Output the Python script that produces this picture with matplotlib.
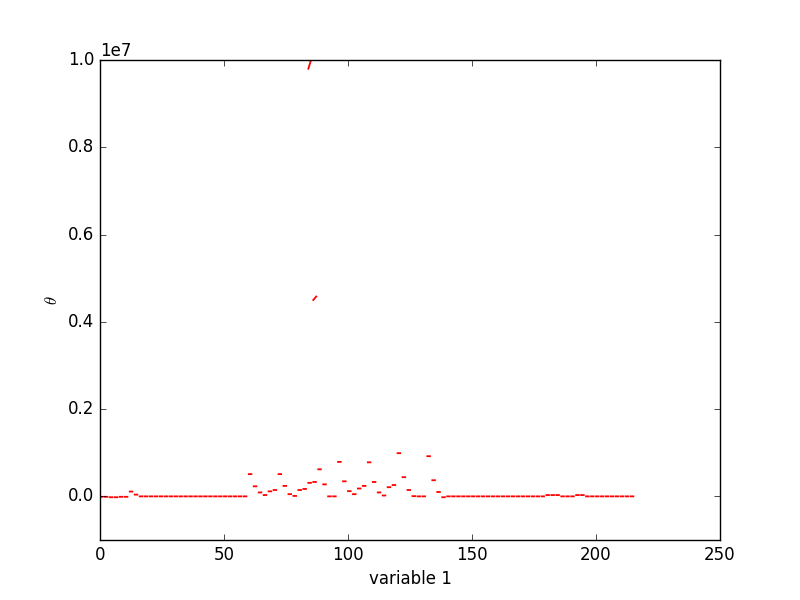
import numpy as np
import matplotlib
matplotlib.use("Agg")
from matplotlib import pyplot as plt

plt.style.use("classic")

# theta values (in units of 1e6) at x = 0, 2, ..., 214
steps = np.arange(0, 216, 2)
theta = ([-0.01, -0.01, -0.02, -0.02, -0.01, -0.01, 0.11, 0.04]
         + [0.0] * 22
         + [0.51, 0.23, 0.09, 0.03, 0.115, 0.145, 0.51, 0.24, 0.05, 0.01,
            0.145, 0.17, 0.31, 0.33, 0.62, 0.275, 0.0, 0.0, 0.79, 0.345,
            0.12, 0.05, 0.18, 0.24, 0.78, 0.33, 0.09, 0.02, 0.21, 0.26,
            0.99, 0.44, 0.145, 0.005, 0.0, 0.0, 0.92, 0.37, 0.10, -0.02]
         + [0.0] * 20
         + [0.03, 0.03, 0.03, 0.0, 0.0, 0.0, 0.03, 0.03]
         + [0.0] * 10)

# the two steep pieces (start x, start theta, end theta), also in 1e6
jump_x = [84, 86]
jump_start = [9.80, 4.50]
jump_end = [10.02, 4.58]

seg = 1.05  # length of each short piece along x

xs, ys = [], []
for x, t in zip(steps, theta):
    xs += [x, x + seg, np.nan]
    ys += [t * 1e6, t * 1e6, np.nan]
for x, a, b in zip(jump_x, jump_start, jump_end):
    xs += [x, x + 1.2, np.nan]
    ys += [a * 1e6, b * 1e6, np.nan]

fig = plt.figure(figsize=(8, 6), dpi=100)
ax = fig.add_subplot(111)
ax.plot(xs, ys, "r-", lw=1.3)

ax.set_xlim(0, 250)
ax.set_ylim(-0.1e7, 1.0e7)
ax.set_xlabel("variable 1")
ax.set_ylabel(r"$\theta$")

fig.savefig("out.png", dpi=100)
